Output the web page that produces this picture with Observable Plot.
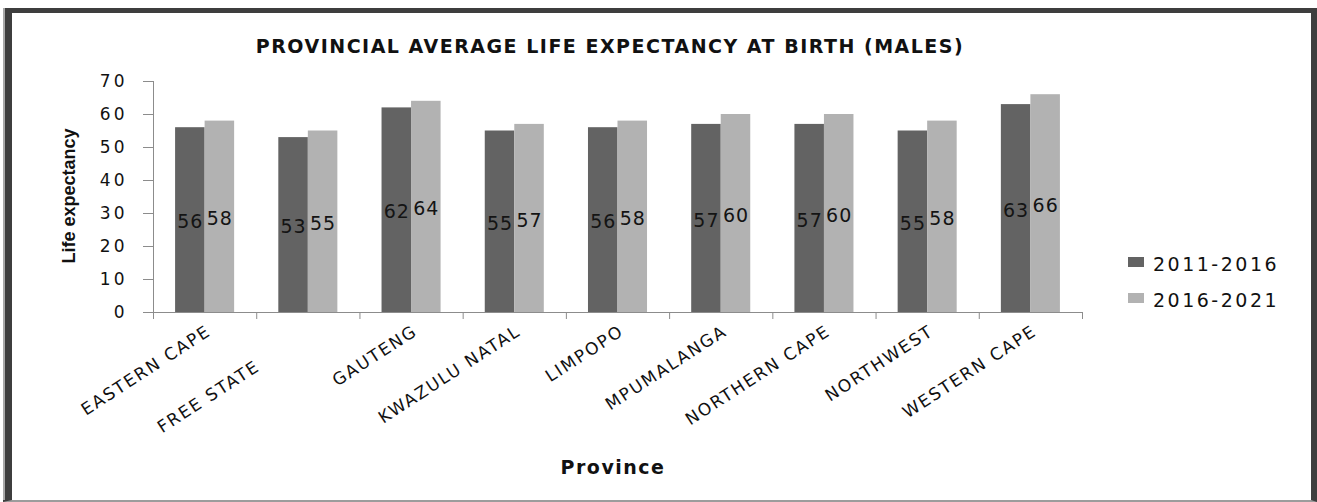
<!DOCTYPE html>
<html>
<head>
<meta charset="utf-8">
<script src="https://cdn.jsdelivr.net/npm/d3@7"></script>
<script src="https://cdn.jsdelivr.net/npm/@observablehq/plot@0.6"></script>
<style>
  html, body { margin: 0; padding: 0; background: #fff; }
  #wrap { position: relative; width: 1317px; height: 502px; overflow: hidden; background: #fff; }
  #frame { position: absolute; left: 3px; top: 8px; width: 1314px; height: 494px; box-sizing: border-box;
           border-top: 5px solid #3e3e3e; border-left: 9px solid #3e3e3e; border-right: 6px solid #3e3e3e;
           border-bottom: 2px solid #9c9c9c; }
  #frame::before { content: ""; position: absolute; left: -9px; top: -5px; bottom: 0; width: 2px; background: #a8a8a8; }
  #chart { position: absolute; left: 0; top: 0; }
  .txt { position: absolute; line-height: 1; white-space: nowrap; color: #111; }
  #title { left: 0; width: 1220px; top: 35px; text-align: center; font: bold 19px "DejaVu Sans"; letter-spacing: 1.5px; }
  #ylab { left: -32px; width: 200px; top: 187px; text-align: center; font: bold 18px "Liberation Sans"; transform: rotate(-90deg); transform-origin: 100px 9px; }
  #xlab { left: 463px; width: 300px; top: 456px; text-align: center; font: bold 19px "DejaVu Sans"; letter-spacing: 1.5px; }
  .leg { position: absolute; left: 1128px; width: 16px; height: 10px; }
  .legt { left: 1153px; font: 19px "DejaVu Sans"; letter-spacing: 2.5px; }
  #chart g[aria-label="x-axis tick label"] text { letter-spacing: 1.8px; }
  #chart g[aria-label="y-axis tick label"] text { letter-spacing: 3px; }
  #chart g[aria-label="text"] text { letter-spacing: 1px; }
</style>
</head>
<body>
<div id="wrap">
  <div id="frame"></div>
  <div id="chart"></div>
  <div id="title" class="txt"></div>
  <div id="ylab" class="txt"></div>
  <div id="xlab" class="txt"></div>
  <div id="legend"></div>
</div>
<script>
// ---- data ----
const chartTitle = "PROVINCIAL AVERAGE LIFE EXPECTANCY AT BIRTH (MALES)";
const yTitle = "Life expectancy";
const xTitle = "Province";
const provinces = ["EASTERN CAPE", "FREE STATE", "GAUTENG", "KWAZULU NATAL", "LIMPOPO",
                   "MPUMALANGA", "NORTHERN CAPE", "NORTHWEST", "WESTERN CAPE"];
// tick label text as in the source (FREE STATE carries trailing spaces)
const tickLabels = ["EASTERN CAPE", "FREE STATE\u00a0\u00a0\u00a0\u00a0\u00a0\u00a0\u00a0\u00a0\u00a0", "GAUTENG", "KWAZULU NATAL", "LIMPOPO",
                    "MPUMALANGA", "NORTHERN CAPE", "NORTHWEST", "WESTERN CAPE"];
const series = ["2011-2016", "2016-2021"];
const values2011_2016 = [56, 53, 62, 55, 56, 57, 57, 55, 63];
const values2016_2021 = [58, 55, 64, 57, 58, 60, 60, 58, 66];
const yTicks = [0, 10, 20, 30, 40, 50, 60, 70];
const seriesColors = ["#636363", "#b2b2b2"];

// ---- table ----
const seriesValues = [values2011_2016, values2016_2021];
const rows = [];
provinces.forEach((p, i) => series.forEach((s, k) => rows.push({province: p, i, k, series: s, value: seriesValues[k][i]})));

const barFrac = 0.286; // bar width as a fraction of a category step
const bx1 = d => d.i + 0.5 + (d.k - 1) * barFrac;
const bx2 = d => d.i + 0.5 + d.k * barFrac;
const bmid = d => d.i + 0.5 + (d.k - 0.5) * barFrac;

const chart = Plot.plot({
  width: 1317,
  height: 502,
  marginLeft: 153,
  marginRight: 235,
  marginTop: 81,
  marginBottom: 190,
  style: {fontFamily: "DejaVu Sans", fontSize: "17px", color: "#111", background: "transparent", overflow: "visible"},
  x: {type: "linear", domain: [0, provinces.length], axis: null},
  y: {domain: [0, 70], axis: null},
  color: {domain: series, range: seriesColors},
  marks: [
    Plot.rectY(rows, {x1: bx1, x2: bx2, y: "value", fill: "series"}),
    Plot.text(rows, {x: bmid, y: d => d.value / 2, text: d => String(d.value), fontSize: 19, fill: "#141414", dy: 2}),
    Plot.ruleX([0], {stroke: "#8c8c8c"}),
    Plot.ruleY([0], {stroke: "#8c8c8c"}),
    Plot.axisY({ticks: yTicks, tickSize: 10, tickPadding: 16, stroke: "#8c8c8c", fill: "#111", fontSize: 17, label: null}),
    Plot.axisX({ticks: d3.range(provinces.length + 1), tickSize: 7, tickFormat: () => "", stroke: "#8c8c8c", label: null}),
    Plot.axisX({ticks: provinces.map((_, i) => i + 0.5), tickFormat: v => tickLabels[Math.floor(v)],
                tickSize: 0, tickPadding: 17, tickRotate: -33, dx: 4, fontSize: 17, fill: "#111", label: null})
  ]
});
document.getElementById("chart").appendChild(chart);

document.getElementById("title").textContent = chartTitle;
document.getElementById("ylab").textContent = yTitle;
document.getElementById("xlab").textContent = xTitle;

const legend = document.getElementById("legend");
series.forEach((s, k) => {
  const sw = document.createElement("div");
  sw.className = "leg";
  sw.style.top = (257 + 36 * k) + "px";
  sw.style.background = seriesColors[k];
  legend.appendChild(sw);
  const t = document.createElement("div");
  t.className = "txt legt";
  t.style.top = (253 + 36 * k) + "px";
  t.textContent = s;
  legend.appendChild(t);
});
</script>
</body>
</html>
